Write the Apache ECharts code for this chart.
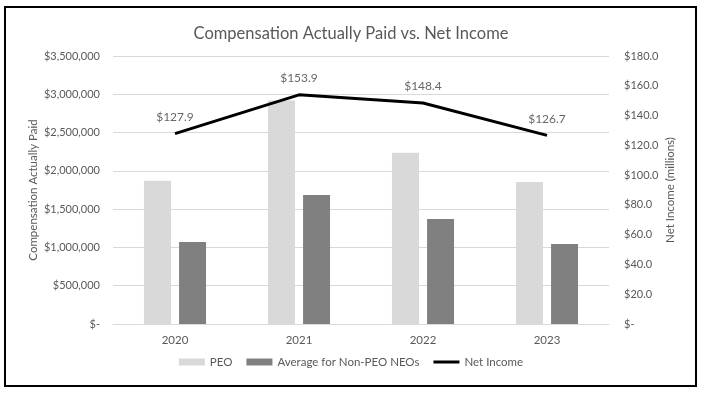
<!DOCTYPE html>
<html><head><meta charset="utf-8">
<script src="https://cdn.jsdelivr.net/npm/echarts@6/dist/echarts.min.js"></script>
<style>html,body{margin:0;padding:0;background:#fff}#c{width:702px;height:395px}</style>
</head><body><div id="c"></div>
<script>
var categories = ['2020', '2021', '2022', '2023'];
var peo = [1870000, 2920000, 2235000, 1855000];
var nonPeo = [1070000, 1685000, 1370000, 1045000];
var netIncome = [127.9, 153.9, 148.4, 126.7];
var FONT = 'Lato';
function money(v){ if(v===0) return '$-'; return '$' + v.toLocaleString('en-US'); }
function money1(v){ if(v===0) return '$-'; return '$' + v.toFixed(1); }
var chart = echarts.init(document.getElementById('c'));
chart.setOption({
  animation: false,
  textStyle: {fontFamily: FONT},
  title: {text: 'Compensation Actually Paid vs. Net Income', left: 'center', top: 20,
    textStyle: {fontFamily: FONT, fontSize: 16.5, fontWeight: 'normal', color: '#595959'}},
  graphic: [{type: 'rect', shape: {x: 5, y: 7, width: 691, height: 379},
    style: {fill: 'none', stroke: '#000', lineWidth: 2}, z: 100}],
  grid: {left: 113, right: 93, top: 56, bottom: 71},
  legend: {bottom: 22, left: 'center', itemGap: 14, itemWidth: 26, itemHeight: 7,
    textStyle: {fontFamily: FONT, fontSize: 11.5, color: '#595959'},
    data: [{name: 'PEO', icon: 'rect'}, {name: 'Average for Non-PEO NEOs', icon: 'rect'},
      {name: 'Net Income', icon: 'path://M0,0L0,0ZM0,2L26,2L26,5L0,5ZM26,7L26,7Z',
       itemStyle: {color: '#000'}}]},
  xAxis: {type: 'category', data: categories,
    axisLine: {lineStyle: {color: '#d9d9d9'}}, axisTick: {show: false},
    axisLabel: {color: '#595959', fontSize: 11.5, margin: 10}},
  yAxis: [
    {type: 'value', min: 0, max: 3500000, interval: 500000,
     name: 'Compensation Actually Paid', nameLocation: 'middle', nameGap: 74, nameMoveOverlap: false,
     nameTextStyle: {color: '#595959', fontSize: 11.5},
     axisLine: {show: false}, axisTick: {show: false},
     splitLine: {lineStyle: {color: '#d9d9d9'}},
     axisLabel: {color: '#595959', fontSize: 11, margin: 13, formatter: money}},
    {type: 'value', min: 0, max: 180, interval: 20,
     name: 'Net Income (millions)', nameLocation: 'middle', nameGap: 55, nameMoveOverlap: false,
     nameTextStyle: {color: '#595959', fontSize: 11.5},
     axisLine: {show: false}, axisTick: {show: false}, splitLine: {show: false},
     axisLabel: {color: '#595959', fontSize: 11, margin: 15, formatter: money1}}
  ],
  series: [
    {name: 'PEO', type: 'bar', data: peo, barWidth: 27, barGap: '30%', itemStyle: {color: '#d9d9d9'}},
    {name: 'Average for Non-PEO NEOs', type: 'bar', data: nonPeo, barWidth: 27, barGap: '30%', itemStyle: {color: '#808080'}},
    {name: 'Net Income', type: 'line', yAxisIndex: 1, data: netIncome, symbol: 'none',
     lineStyle: {color: '#000', width: 3}, itemStyle: {color: '#000'}, z: 5},
    {name: 'Net Income labels', type: 'scatter', yAxisIndex: 1, data: netIncome,
     symbolSize: 1, itemStyle: {color: 'rgba(0,0,0,0)'}, silent: true, z: 6,
     label: {show: true, position: 'top', distance: 10, color: '#404040', fontSize: 12,
       formatter: function(p){ return '$' + p.value.toFixed(1); }}}
  ]
});
</script></body></html>
